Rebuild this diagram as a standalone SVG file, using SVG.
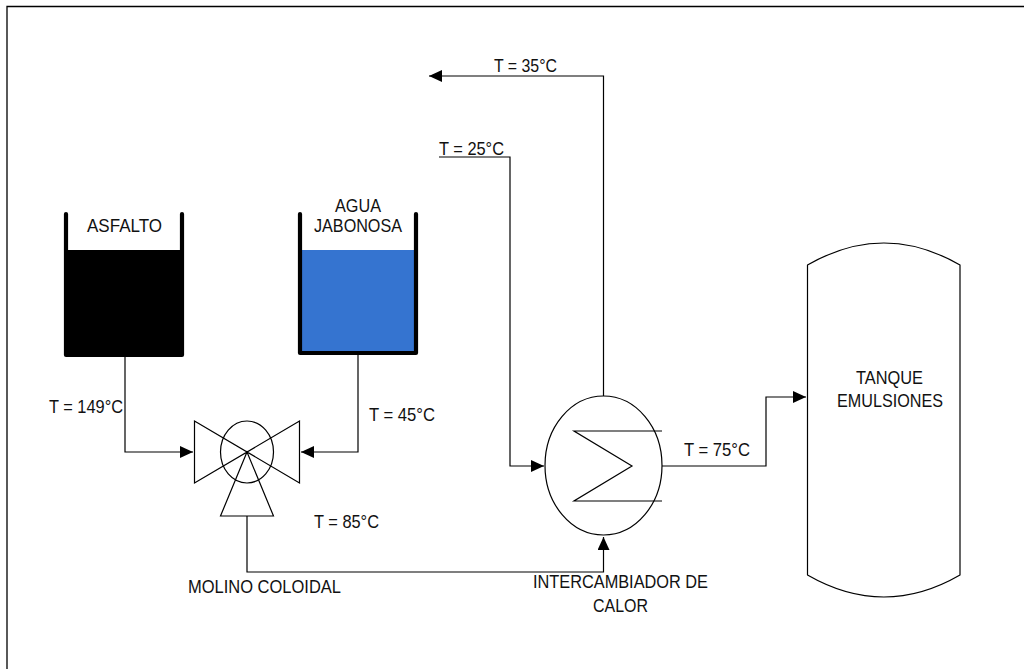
<svg xmlns="http://www.w3.org/2000/svg" width="1024" height="669" viewBox="0 0 1024 669">
<style>
text{font-family:"Liberation Sans",Arial,sans-serif;font-size:19px;fill:#111}
.s{fill:#fff;stroke:#000;stroke-width:1.2}
.n{fill:none;stroke:#000;stroke-width:1.2}
.c{fill:none;stroke:#000;stroke-width:1.2}
.w{fill:none;stroke:#000;stroke-width:4.2;stroke-linejoin:round;stroke-linecap:round}
</style>
<defs>
<marker id="a" markerUnits="userSpaceOnUse" markerWidth="14" markerHeight="12" refX="13" refY="6" orient="auto"><path d="M0 0L13 6L0 12Z" fill="#000"/></marker>
</defs>
<rect x="0" y="0" width="1024" height="669" fill="#fff"/>
<path d="M7 669V6.500H1024" fill="none" stroke="#000" stroke-width="1.300"/>
<g id="connectors">
<path class="c" d="M125 356V452H193" marker-end="url(#a)"/>
<path class="c" d="M358 354V452H301" marker-end="url(#a)"/>
<path class="c" d="M247 516V572H603.500V537" marker-end="url(#a)"/>
<path class="c" d="M439 157H510V466H544" marker-end="url(#a)"/>
<path class="c" d="M603.500 396V76H429" marker-end="url(#a)"/>
<path class="c" d="M662 466H766V397H806" marker-end="url(#a)"/>
</g>
<g id="tank-asfalto">
<rect x="66" y="250" width="116" height="105" fill="#000"/>
<path class="w" d="M66 214V355H182V214"/>
<text x="87" y="232" textLength="75" lengthAdjust="spacingAndGlyphs">ASFALTO</text>
</g>
<g id="tank-agua">
<rect x="300" y="250" width="116" height="103" fill="#3574d0"/>
<path class="w" d="M300 214V353H416V214"/>
<text x="335" y="212" textLength="46" lengthAdjust="spacingAndGlyphs">AGUA</text>
<text x="314" y="232" textLength="88" lengthAdjust="spacingAndGlyphs">JABONOSA</text>
</g>
<g id="molino">
<ellipse class="n" cx="247" cy="452" rx="26.500" ry="31" stroke-width="1.500"/>
<path class="n" d="M194.500 421V483L299.500 421V483ZM247 452L220.500 516H273.500Z"/>
<text x="188" y="593" textLength="153" lengthAdjust="spacingAndGlyphs">MOLINO COLOIDAL</text>
</g>
<g id="intercambiador">
<ellipse class="s" cx="603.500" cy="465.500" rx="58.500" ry="69.500"/>
<path class="n" d="M662 431H574L632 466L574 501H662"/>
<text x="533" y="588" textLength="175" lengthAdjust="spacingAndGlyphs">INTERCAMBIADOR DE</text>
<text x="593" y="612" textLength="55" lengthAdjust="spacingAndGlyphs">CALOR</text>
</g>
<g id="tanque">
<path class="s" d="M807.500 265Q884 221 960 265V575Q884 619 807.500 575Z"/>
<text x="856" y="384" textLength="67" lengthAdjust="spacingAndGlyphs">TANQUE</text>
<text x="837" y="407" textLength="106" lengthAdjust="spacingAndGlyphs">EMULSIONES</text>
</g>
<g id="labels">
<text x="49" y="413" textLength="74" lengthAdjust="spacingAndGlyphs">T = 149°C</text>
<text x="369" y="421" textLength="66" lengthAdjust="spacingAndGlyphs">T = 45°C</text>
<text x="314" y="528" textLength="65" lengthAdjust="spacingAndGlyphs">T = 85°C</text>
<text x="439" y="155" textLength="65" lengthAdjust="spacingAndGlyphs">T = 25°C</text>
<text x="494" y="72" textLength="63" lengthAdjust="spacingAndGlyphs">T = 35°C</text>
<text x="684" y="456" textLength="66" lengthAdjust="spacingAndGlyphs">T = 75°C</text>
</g>
</svg>
